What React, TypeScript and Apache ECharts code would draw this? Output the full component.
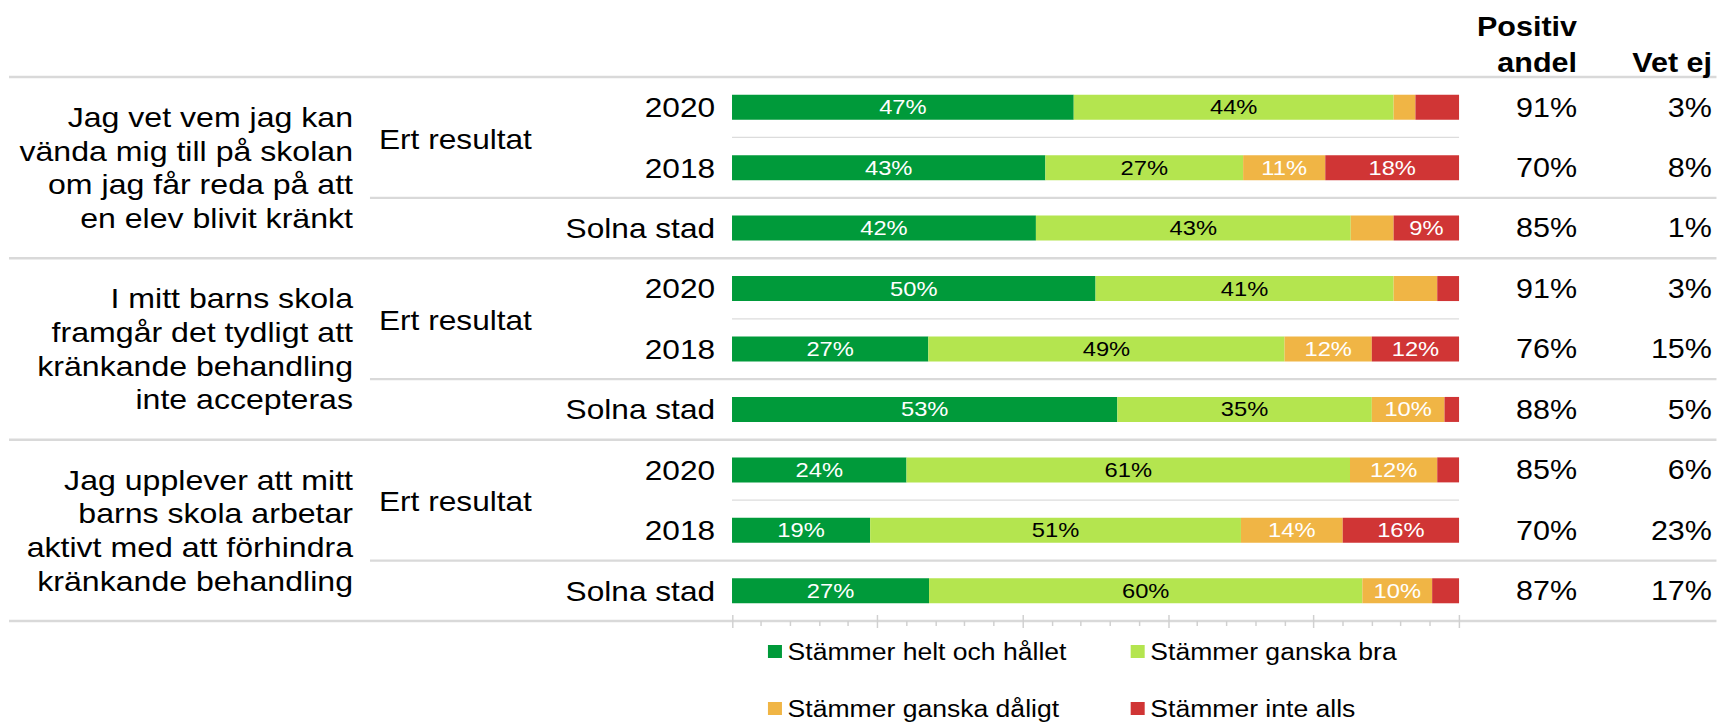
import React, { useEffect, useRef } from 'react';
import * as echarts from 'echarts';

// ---------- data ----------
const rowKeys = ['q1-2020', 'q1-2018', 'q1-solna', 'q2-2020', 'q2-2018', 'q2-solna', 'q3-2020', 'q3-2018', 'q3-solna'];
const rowLabels = ['2020', '2018', 'Solna stad', '2020', '2018', 'Solna stad', '2020', '2018', 'Solna stad'];
const questions = [
  'Jag vet vem jag kan\nvända mig till på skolan\nom jag får reda på att\nen elev blivit kränkt',
  'I mitt barns skola\nframgår det tydligt att\nkränkande behandling\ninte accepteras',
  'Jag upplever att mitt\nbarns skola arbetar\naktivt med att förhindra\nkränkande behandling',
];
const groupLabel = 'Ert resultat';
const seriesNames = ['Stämmer helt och hållet', 'Stämmer ganska bra', 'Stämmer ganska dåligt', 'Stämmer inte alls'];
const heltOchHallet = [47, 43.1, 41.8, 50, 27, 53, 24, 19, 27.1];
const ganskaBra = [44, 27.2, 43.3, 41, 49, 35, 61, 51, 59.6];
const ganskaDaligt = [3, 11.3, 5.9, 6, 12, 10, 12, 14, 9.6];
const inteAlls = [6, 18.4, 9.0, 3, 12, 2, 3, 16, 3.7];
const positivAndel = [91, 70, 85, 91, 76, 88, 85, 70, 87];
const vetEj = [3, 8, 1, 3, 15, 5, 6, 23, 17];
const headerPositiv = 'Positiv\nandel';
const headerVetEj = 'Vet ej';
const seriesColors = ['#009a3a', '#b4e54f', '#f0b545', '#d03535'];
const labelColors = ['#ffffff', '#000000', '#ffffff', '#ffffff'];

// ---------- layout ----------
const S = 1.13; // horizontal stretch of the reference
const CW = 1717 / S;
const CH = 723;
const TOP = 77;
const GH = 544;
const ROW = GH / 9;
const GL = 647.8;
const GW = 643.4;
const FONT = '"Liberation Sans", Arial, Helvetica, sans-serif';
const TXT = '#000';

export default function App() {
  const ref = useRef<HTMLDivElement>(null);

  useEffect(() => {
    if (!ref.current) return;
    const chart = echarts.init(ref.current, undefined, { renderer: 'svg' });

    const seriesData = [heltOchHallet, ganskaBra, ganskaDaligt, inteAlls];

    const graphics: any[] = [];
    for (let k = 0; k <= 3; k++) {
      const y = TOP + ROW * 3 * k;
      graphics.push({ type: 'line', silent: true, shape: { x1: 8, y1: y, x2: CW, y2: y }, style: { stroke: '#d9d9d9', lineWidth: 2.5 } });
    }
    for (let g = 0; g < 3; g++) {
      const y2 = TOP + ROW * (3 * g + 2);
      graphics.push({ type: 'line', silent: true, shape: { x1: 327.4, y1: y2, x2: CW, y2: y2 }, style: { stroke: '#d9d9d9', lineWidth: 2.2 } });
      const y1 = TOP + ROW * (3 * g + 1);
      graphics.push({ type: 'line', silent: true, shape: { x1: GL, y1: y1, x2: GL + GW, y2: y1 }, style: { stroke: '#dcdcdc', lineWidth: 1.2 } });
      graphics.push({
        type: 'text', silent: true, x: 335.4, y: y1 + 1.5,
        style: { text: groupLabel, fontSize: 28, fontFamily: FONT, fill: TXT, align: 'left', verticalAlign: 'middle' },
      });
    }
    graphics.push({
      type: 'text', silent: true, x: 1395.6, y: 8.3,
      style: { text: headerPositiv, fontSize: 27, fontWeight: 'bold', fontFamily: FONT, fill: TXT, align: 'right', verticalAlign: 'top', lineHeight: 36 },
    });
    graphics.push({
      type: 'text', silent: true, x: 1515, y: 44.3,
      style: { text: headerVetEj, fontSize: 27, fontWeight: 'bold', fontFamily: FONT, fill: TXT, align: 'right', verticalAlign: 'top', lineHeight: 36 },
    });

    const legendCommon = {
      orient: 'horizontal',
      left: 679.6,
      padding: 0,
      itemWidth: 12.4,
      itemHeight: 13,
      itemGap: 43.6,
      icon: 'rect',
      selectedMode: false,
      formatter: (name: string) => `{a|${name}}`,
      textStyle: {
        fontSize: 23.5, fontFamily: FONT, color: TXT, lineHeight: 26,
        rich: { a: { width: 260, fontSize: 23.5, fontFamily: FONT, color: TXT, lineHeight: 26 } },
      },
    };

    const tickStyle = { color: '#d0d0d0', width: 1.3 };

    chart.setOption({
      animation: false,
      textStyle: { fontFamily: FONT },
      grid: [{ left: GL, top: TOP, width: GW, height: GH, containLabel: false }],
      legend: [
        { ...legendCommon, top: 638.5, data: [seriesNames[0], seriesNames[1]] },
        { ...legendCommon, top: 695.5, data: [seriesNames[2], seriesNames[3]] },
      ],
      xAxis: [
        {
          type: 'value', gridIndex: 0, min: 0, max: 100, interval: 20, position: 'bottom',
          axisLine: { show: false }, axisLabel: { show: false }, splitLine: { show: false },
          axisTick: { show: true, length: 7, lineStyle: tickStyle },
          minorTick: { show: true, splitNumber: 5, length: 5, lineStyle: tickStyle },
          minorSplitLine: { show: false },
        },
        {
          type: 'value', gridIndex: 0, min: 0, max: 100, interval: 20, position: 'bottom',
          axisLine: { show: false }, axisLabel: { show: false }, splitLine: { show: false },
          axisTick: { show: true, inside: true, length: 6, lineStyle: tickStyle },
        },
      ],
      yAxis: [
        {
          type: 'category', gridIndex: 0, data: rowKeys, inverse: true, position: 'left',
          axisLine: { show: false }, axisTick: { show: false }, splitLine: { show: false },
          axisLabel: {
            interval: 0, margin: 15, fontSize: 28, color: TXT, fontFamily: FONT,
            formatter: (_v: string, i: number) => rowLabels[i],
          },
        },
        {
          type: 'category', gridIndex: 0, data: rowKeys, inverse: true, position: 'left', offset: 0,
          axisLine: { show: false }, axisTick: { show: false }, splitLine: { show: false },
          axisLabel: {
            interval: 0, margin: GL - 312.4, fontSize: 28.4, color: TXT, fontFamily: FONT, align: 'right', lineHeight: 33.7,
            formatter: (_v: string, i: number) => (i % 3 === 1 ? questions[(i - 1) / 3] : ''),
          },
        },
        {
          type: 'category', gridIndex: 0, data: rowKeys, inverse: true, position: 'right', offset: 0,
          axisLine: { show: false }, axisTick: { show: false }, splitLine: { show: false },
          axisLabel: {
            interval: 0, margin: 1515 - (GL + GW), align: 'right', color: TXT, fontFamily: FONT, fontSize: 27,
            formatter: (_v: string, i: number) => `{p|${positivAndel[i]}%}{v|${vetEj[i]}%}`,
            rich: {
              p: { fontSize: 27, fontFamily: FONT, color: TXT },
              v: { fontSize: 27, fontFamily: FONT, color: TXT, width: 1515 - 1395.6, align: 'right' },
            },
          },
        },
      ],
      series: seriesNames.map((name, si) => ({
        name,
        type: 'bar',
        stack: 'total',
        xAxisIndex: 0,
        yAxisIndex: 0,
        barWidth: 25,
        itemStyle: { color: seriesColors[si] },
        label: {
          show: true,
          position: 'inside',
          fontSize: 21,
          fontFamily: FONT,
          color: labelColors[si],
          formatter: (p: any) => (p.value >= 7 ? `${Math.round(p.value)}%` : ''),
        },
        data: seriesData[si],
      })),
      graphic: graphics,
    });

    return () => chart.dispose();
  }, []);

  return (
    <div
      ref={ref}
      style={{
        position: 'absolute', left: 0, top: 0, width: CW, height: CH,
        transform: `scaleX(${S})`, transformOrigin: '0 0', background: '#fff',
      }}
    />
  );
}
